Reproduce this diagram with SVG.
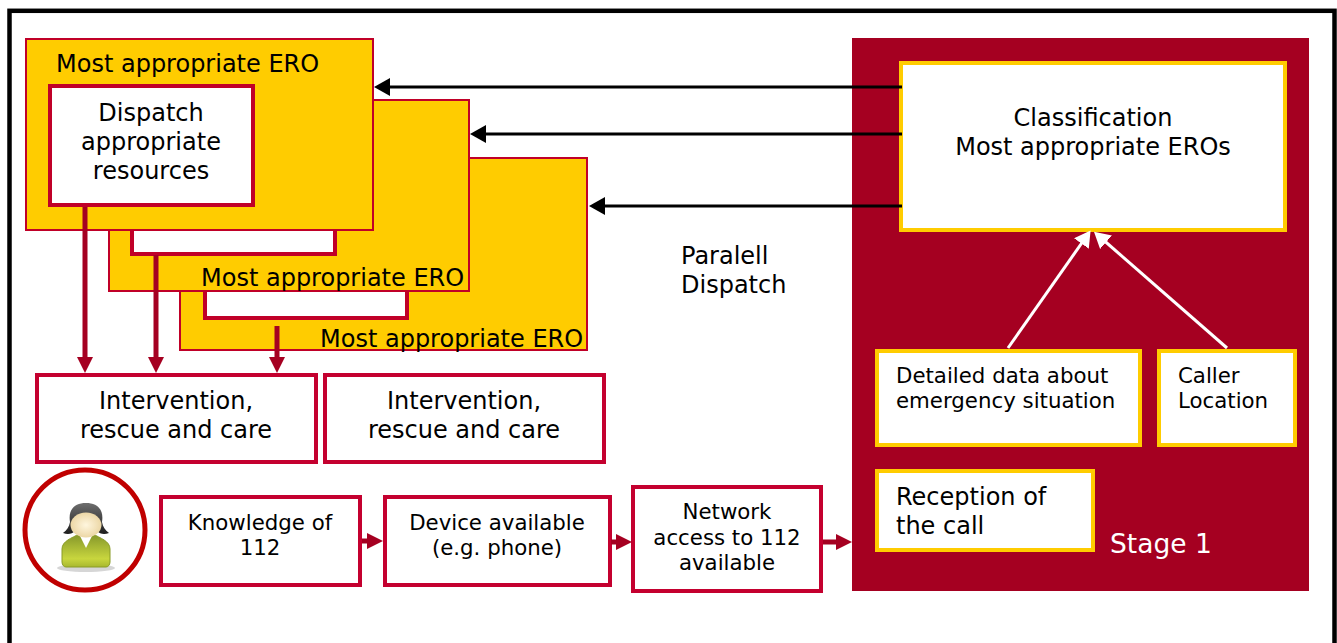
<svg xmlns="http://www.w3.org/2000/svg" width="1337" height="643" viewBox="0 0 1337 643">
<defs>
<marker id="bk" markerUnits="userSpaceOnUse" markerWidth="16" markerHeight="18" refX="8" refY="9" orient="auto"><path d="M0 0L16 9L0 18Z" fill="#000"/></marker>
<marker id="wh" markerUnits="userSpaceOnUse" markerWidth="16" markerHeight="18" refX="8" refY="9" orient="auto"><path d="M0 0L16 9L0 18Z" fill="#fff"/></marker>
<marker id="rd" markerUnits="userSpaceOnUse" markerWidth="16" markerHeight="16" refX="8" refY="8" orient="auto"><path d="M0 0L16 8L0 16Z" fill="#a50021"/></marker>
<linearGradient id="body" x1="0" y1="0" x2="0" y2="1"><stop offset="0" stop-color="#84962a"/><stop offset="0.75" stop-color="#c8d63e"/><stop offset="1" stop-color="#a8b82e"/></linearGradient>
<linearGradient id="hair" x1="0" y1="0" x2="0" y2="1"><stop offset="0" stop-color="#6e6e6e"/><stop offset="1" stop-color="#1e1e1e"/></linearGradient>
<radialGradient id="face"><stop offset="0" stop-color="#fff6de"/><stop offset="1" stop-color="#ecd7a6"/></radialGradient>
</defs>
<style>
text{font-family:"DejaVu Sans","Liberation Sans",sans-serif;fill:#000}
.t24{font-size:24px}.t22{font-size:21.3px}
.m{text-anchor:middle}
.ero{fill:#ffcc00;stroke:#c00028;stroke-width:2}
.in{fill:#fff;stroke:#c00028;stroke-width:4}
.box{fill:#fff;stroke:#c4002f;stroke-width:4}
.yb{fill:#fff;stroke:#ffcc00;stroke-width:4}
.bk{stroke:#000;stroke-width:3;fill:none;marker-end:url(#bk)}
.wl{stroke:#fff;stroke-width:3;fill:none;marker-end:url(#wh)}
.rl{stroke:#a50021;stroke-width:5;fill:none;marker-end:url(#rd)}
</style>
<rect x="9.5" y="10.8" width="1325" height="640" fill="#fff" stroke="#000" stroke-width="4.5"/>
<g id="stage1"><rect x="852" y="38" width="457" height="553" fill="#a50021"/><text x="1110" y="553" style="fill:#fff;font-size:26.5px">Stage 1</text></g>
<g id="ero3"><rect class="ero" x="180" y="158" width="407" height="192"/><rect class="in" x="205" y="270" width="202" height="48"/><text x="320" y="347" class="t24">Most appropriate ERO</text></g>
<g id="ero2"><rect class="ero" x="109" y="100" width="360" height="191"/><rect class="in" x="132" y="210" width="203" height="44"/><text x="201" y="286" class="t24">Most appropriate ERO</text></g>
<g id="ero1"><rect class="ero" x="26" y="39" width="347" height="191"/><text x="56" y="72" class="t24">Most appropriate ERO</text></g>
<g id="dispatch"><rect class="in" x="50" y="86" width="203" height="119"/><text class="t24 m" x="151" y="121">Dispatch</text><text class="t24 m" x="151" y="150">appropriate</text><text class="t24 m" x="151" y="179">resources</text></g>
<g id="classification"><rect class="yb" x="901" y="63" width="384" height="167"/><text class="t24 m" x="1093" y="126">Classification</text><text class="t24 m" x="1093" y="155">Most appropriate EROs</text></g>
<g id="detail"><rect class="yb" x="877" y="351" width="263" height="94"/><text class="t22" x="896" y="383">Detailed data about</text><text class="t22" x="896" y="408">emergency situation</text></g>
<g id="location"><rect class="yb" x="1159" y="351" width="136" height="94"/><text class="t22" x="1178" y="383">Caller</text><text class="t22" x="1178" y="408">Location</text></g>
<g id="reception"><rect class="yb" x="877" y="471" width="216" height="79"/><text class="t24" x="896" y="505">Reception of</text><text class="t24" x="896" y="534">the call</text></g>
<g id="parallel"><text class="t24" x="681" y="264">Paralell</text><text class="t24" x="681" y="293">Dispatch</text></g>
<g id="care1"><rect class="box" x="37" y="375" width="279" height="87"/><text class="t24 m" x="176" y="409">Intervention,</text><text class="t24 m" x="176" y="438">rescue and care</text></g>
<g id="care2"><rect class="box" x="325" y="375" width="279" height="87"/><text class="t24 m" x="464" y="409">Intervention,</text><text class="t24 m" x="464" y="438">rescue and care</text></g>
<g id="knowledge"><rect class="box" x="161" y="497" width="199" height="88"/><text class="t22 m" x="260" y="530">Knowledge of</text><text class="t22 m" x="260" y="555">112</text></g>
<g id="device"><rect class="box" x="385" y="497" width="225" height="88"/><text class="t22 m" x="497" y="530">Device available</text><text class="t22 m" x="497" y="555">(e.g. phone)</text></g>
<g id="network"><rect class="box" x="633" y="487" width="188" height="104"/><text class="t22 m" x="727" y="519">Network</text><text class="t22 m" x="727" y="545">access to 112</text><text class="t22 m" x="727" y="570">available</text></g>
<g id="person">
<ellipse cx="85" cy="530" rx="60" ry="60" fill="#fff" stroke="#c00000" stroke-width="5"/>
<ellipse cx="86" cy="568" rx="29" ry="4" fill="#bbb" opacity="0.6"/>
<path d="M62 562V549C62 541 72 538 79 534H93C100 538 110 541 110 549V562C110 565 108 567 106 567H66C64 567 62 565 62 562Z" fill="url(#body)" stroke="#8a9c26"/>
<path d="M79 534L86 548L93 534Z" fill="#fff"/>
<path d="M70 522C68 510 74 503 86 503C98 503 104 510 102 522C103 527 105 530 109 533C104 535 100 534 97 531H75C72 534 68 535 63 533C67 530 69 527 70 522Z" fill="url(#hair)"/>
<ellipse cx="86" cy="525" rx="15.500" ry="12.500" fill="url(#face)"/>
</g>
<g id="connectors">
<path class="bk" d="M902 87H382"/>
<path class="bk" d="M902 134H478"/>
<path class="bk" d="M902 206H597"/>
<path class="wl" d="M1008 348L1086 237"/>
<path class="wl" d="M1227 348L1100 237"/>
<path class="rl" d="M85 207V365"/>
<path class="rl" d="M156 255V365"/>
<path class="rl" d="M277 326V365"/>
<path class="rl" d="M362 541H375"/>
<path class="rl" d="M611 542H624"/>
<path class="rl" d="M823 542H844"/>
</g>
</svg>
